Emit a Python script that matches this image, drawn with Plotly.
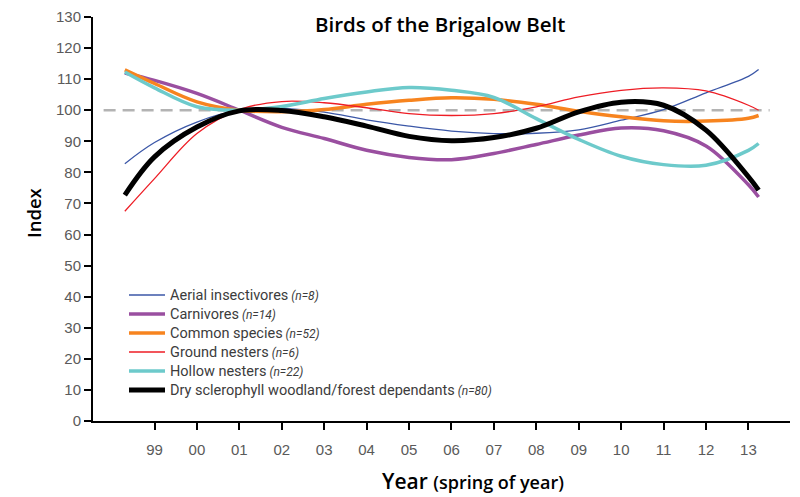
import plotly.graph_objects as go

# Years (x positions of the smoothed index curves)
years = [1998.3, 1999, 2000, 2001, 2002, 2003, 2004, 2005, 2006, 2007, 2008,
         2009, 2010, 2011, 2012, 2013, 2013.24]
tick_years = list(range(1999, 2014))
tick_labels = ["99", "00", "01", "02", "03", "04", "05", "06", "07", "08",
               "09", "10", "11", "12", "13"]

aerial = [82.8, 89.6, 96.2, 100.0, 100.6, 99.4, 96.9, 94.9, 93.3, 92.5, 92.6,
          93.7, 96.8, 100.2, 105.6, 110.9, 113.1]
carnivores = [112.0, 109.6, 105.4, 100.0, 94.5, 90.9, 87.1, 84.8, 84.1, 86.1, 89.0,
              92.0, 94.3, 93.4, 88.5, 76.0, 72.1]
common = [113.0, 108.6, 102.7, 100.0, 99.5, 100.2, 101.9, 103.2, 104.0, 103.5, 101.9,
          99.7, 97.9, 96.6, 96.5, 97.4, 98.3]
ground = [67.5, 78.0, 92.5, 100.2, 102.8, 102.4, 100.8, 98.9, 98.3, 98.9, 101.1,
          104.3, 106.4, 107.2, 106.2, 101.6, 100.0]
hollow = [112.3, 107.2, 101.1, 100.0, 101.2, 103.8, 105.9, 107.3, 106.4, 104.1, 97.3,
          90.6, 85.2, 82.5, 82.3, 87.1, 89.3]
dry = [72.7, 85.0, 94.6, 99.8, 99.9, 97.9, 94.9, 91.6, 90.2, 91.2, 94.2,
       99.5, 102.6, 101.6, 93.6, 78.6, 74.3]

baseline_value = 100
baseline_span = [1997.8, 2013.5]

series = [
    ("Aerial insectivores", "(n=8)", aerial, "#3b57a7", 1.3),
    ("Carnivores", "(n=14)", carnivores, "#9a4fa0", 3.5),
    ("Common species", "(n=52)", common, "#f7841f", 3.5),
    ("Ground nesters", "(n=6)", ground, "#ee1d25", 1.3),
    ("Hollow nesters", "(n=22)", hollow, "#6dcacb", 3.5),
    ("Dry sclerophyll woodland/forest dependants", "(n=80)", dry, "#000000", 5),
]

fig = go.Figure()
fig.add_trace(go.Scatter(
    x=baseline_span, y=[baseline_value, baseline_value], mode="lines",
    line=dict(color="#b3b3b3", width=2.5, dash="12px,7px"),
    showlegend=False, hoverinfo="skip"))

for name, n, vals, color, w in series:
    fig.add_trace(go.Scatter(
        x=years, y=vals, mode="lines",
        name=(f"<span style='font-size:14.5px'>{name}</span> "
              f"<i><span style='font-size:12px'>{n}</span></i>"),
        line=dict(color=color, width=w, shape="spline", smoothing=1.0)))

W, H = 800, 497
l, r, t, b = 93, 10, 17, 76
pw, ph = W - l - r, H - t - b

axis_common = dict(showgrid=False, zeroline=False, showline=True, linecolor="black",
                   linewidth=2, ticks="outside", ticklen=7, tickwidth=2, tickcolor="black",
                   automargin=False,
                   tickfont=dict(family="Liberation Sans, Arial, sans-serif", size=15,
                                 color="#5a5a5a"))

fig.update_layout(
    width=W, height=H,
    margin=dict(l=l, r=r, t=t, b=b, autoexpand=False),
    paper_bgcolor="white", plot_bgcolor="white",
    showlegend=True,
    legend=dict(x=(124 - l) / pw, y=1 - (280.5 - t) / ph, xanchor="left", yanchor="top",
                bgcolor="rgba(0,0,0,0)", itemwidth=36,
                font=dict(family="Roboto, sans-serif", size=12, color="#3c3c3c"),
                tracegroupgap=0),
    xaxis=dict(range=[1997.55, 2013.98], tickvals=tick_years, ticktext=tick_labels,
               ticklabelstandoff=7, **axis_common),
    yaxis=dict(range=[0, 130], tickvals=list(range(0, 131, 10)), **axis_common),
)

# text placed at pixel positions, converted to paper coordinates
texts = [
    dict(text="Birds of the Brigalow Belt", px=440, py=24, size=20.5, angle=0),
    dict(text="Year <span style='font-size:18px'>(spring of year)</span>",
         px=473, py=481, size=21, angle=0),
    dict(text="Index", px=33, py=213, size=18.5, angle=-90),
]
for tx in texts:
    fig.add_annotation(text=tx["text"], xref="paper", yref="paper",
                       x=(tx["px"] - l) / pw, y=1 - (tx["py"] - t) / ph,
                       xanchor="center", yanchor="middle", textangle=tx["angle"],
                       showarrow=False,
                       font=dict(family="Open Sans, sans-serif", size=tx["size"],
                                 color="black", weight=600))

fig.write_html("out.html", config={"displayModeBar": False},
               post_script="document.body.style.margin='0';")
